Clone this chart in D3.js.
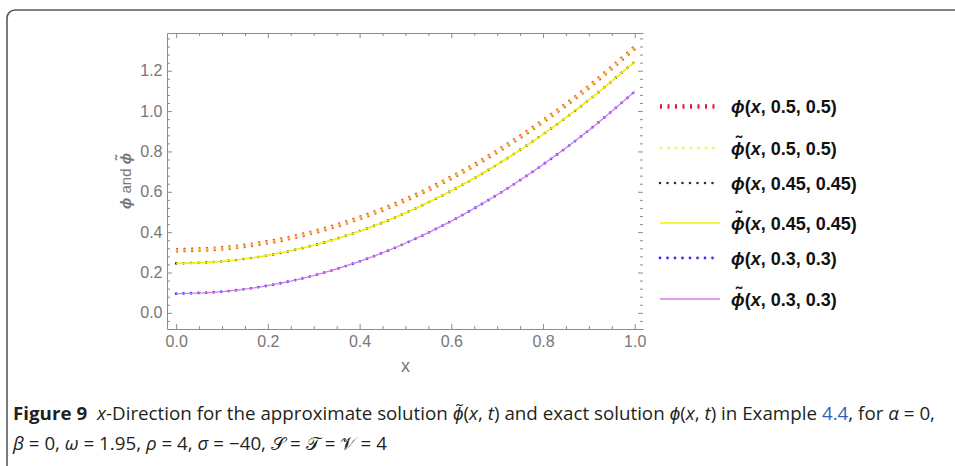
<!DOCTYPE html>
<html>
<head>
<meta charset="utf-8">
<script src="https://cdn.jsdelivr.net/npm/d3@7/dist/d3.min.js"></script>
<style>
  html, body { margin: 0; padding: 0; background: #fff; }
  svg { display: block; }
  svg text { white-space: pre; }
</style>
</head>
<body>
<svg id="chart" width="955" height="466"></svg>
<script>
// ---- data -------------------------------------------------------------
const xValues = [0, 0.1, 0.2, 0.3, 0.4, 0.5, 0.6, 0.7, 0.8, 0.9, 1.0];

// exact solution phi(x, t) and approximation phi~(x, t) at three (y, t) pairs
const exact050  = [0.310, 0.320, 0.350, 0.400, 0.470, 0.560, 0.670, 0.800, 0.950, 1.120, 1.315];
const approx050 = [0.310, 0.320, 0.350, 0.400, 0.470, 0.560, 0.670, 0.800, 0.950, 1.120, 1.315];
const exact045  = [0.245, 0.255, 0.285, 0.335, 0.405, 0.495, 0.605, 0.735, 0.885, 1.055, 1.245];
const approx045 = [0.245, 0.255, 0.285, 0.335, 0.405, 0.495, 0.605, 0.735, 0.885, 1.055, 1.245];
const exact030  = [0.095, 0.105, 0.135, 0.185, 0.255, 0.345, 0.455, 0.585, 0.735, 0.905, 1.097];
const approx030 = [0.095, 0.105, 0.135, 0.185, 0.255, 0.345, 0.455, 0.585, 0.735, 0.905, 1.097];

const xTickValues = [0, 0.2, 0.4, 0.6, 0.8, 1.0];
const yTickValues = [0, 0.2, 0.4, 0.6, 0.8, 1.0, 1.2];

const seriesArgs = ["0.5, 0.5", "0.5, 0.5", "0.45, 0.45", "0.45, 0.45", "0.3, 0.3", "0.3, 0.3"];

// ---- setup ------------------------------------------------------------
const svg = d3.select("#chart");
const PHI = "\u03D5";

svg.append("rect").attr("width", 955).attr("height", 466).attr("fill", "#fff");

// outer rounded panel border (open to the right and bottom)
svg.append("path")
  .attr("d", "M7,470 V18 A8,8 0 0 1 15,10 H960")
  .attr("fill", "none").attr("stroke", "#5a5a5a").attr("stroke-width", 1.6);

const x = d3.scaleLinear().domain([-0.02, 1.018]).range([167, 643]);
const y = d3.scaleLinear().domain([-0.08, 1.387]).range([329, 33]);

const axisColor = "#8c8c8c";
const labelColor = "#777";
const tickFont = "'Liberation Sans', Arial, sans-serif";

const xMinor = d3.range(0, 1.0001, 0.05).filter(v => !xTickValues.some(t => Math.abs(t - v) < 1e-6));
const yMinor = d3.range(-0.04, 1.38, 0.04).filter(v => !yTickValues.some(t => Math.abs(t - v) < 1e-6));
const fmt = d3.format(".1f");

function styleAxis(g, keepDomain) {
  g.attr("font-size", 16).attr("font-family", tickFont);
  g.selectAll("line").attr("stroke", axisColor);
  g.select(".domain").attr("stroke", axisColor);
  if (!keepDomain) g.select(".domain").remove();
  g.selectAll("text").attr("fill", labelColor);
}

// bottom
svg.append("g").attr("transform", "translate(0,329)")
  .call(d3.axisBottom(x).tickValues(xTickValues).tickFormat(fmt).tickSizeInner(-5).tickSizeOuter(0).tickPadding(7))
  .call(g => styleAxis(g, true));
svg.append("g").attr("transform", "translate(0,329)")
  .call(d3.axisBottom(x).tickValues(xMinor).tickFormat("").tickSizeInner(-3).tickSizeOuter(0))
  .call(g => styleAxis(g, false));
// top
svg.append("g").attr("transform", "translate(0,33)")
  .call(d3.axisTop(x).tickValues(xTickValues).tickFormat("").tickSizeInner(-5).tickSizeOuter(0))
  .call(g => styleAxis(g, true));
svg.append("g").attr("transform", "translate(0,33)")
  .call(d3.axisTop(x).tickValues(xMinor).tickFormat("").tickSizeInner(-3).tickSizeOuter(0))
  .call(g => styleAxis(g, false));
// left
svg.append("g").attr("transform", "translate(167,0)")
  .call(d3.axisLeft(y).tickValues(yTickValues).tickFormat(fmt).tickSizeInner(-5).tickSizeOuter(0).tickPadding(4.5))
  .call(g => styleAxis(g, true));
svg.append("g").attr("transform", "translate(167,0)")
  .call(d3.axisLeft(y).tickValues(yMinor).tickFormat("").tickSizeInner(-3).tickSizeOuter(0))
  .call(g => styleAxis(g, false));
// right (ticks only)
svg.append("g").attr("transform", "translate(643,0)")
  .call(d3.axisRight(y).tickValues(yTickValues).tickFormat("").tickSizeInner(-5).tickSizeOuter(0))
  .call(g => styleAxis(g, false));
svg.append("g").attr("transform", "translate(643,0)")
  .call(d3.axisRight(y).tickValues(yMinor).tickFormat("").tickSizeInner(-3).tickSizeOuter(0))
  .call(g => styleAxis(g, false));

// ---- rich text helper (italic pieces, tilde accents) --------------------
function rich(parent, segs, opt) {
  let cx = 0;
  segs.forEach(s => {
    const t = parent.append("text").attr("x", cx).attr("y", 0).text(s.t)
      .attr("font-style", s.i ? "italic" : null)
      .attr("font-weight", s.b ? "bold" : null)
      .attr("fill", s.c || null);
    if (s.f) t.attr("font-family", s.f);
    const w = t.node().getComputedTextLength();
    if (s.tilde) {
      parent.append("text").attr("x", cx + w / 2 + (opt.tdx || 1))
        .attr("y", -(opt.tdy || 4)).attr("text-anchor", "middle")
        .attr("font-weight", s.b ? "bold" : null)
        .attr("fill", s.c || null).text("\u02DC");
    }
    cx += w;
  });
  return cx;
}

// ---- series -------------------------------------------------------------
const lineGen = d3.line()
  .x((d, i) => x(xValues[i]))
  .y(d => y(d))
  .curve(d3.curveCatmullRom.alpha(0.5));

const styles = [
  { color: "#e8123e", width: 4.5, dash: "2 5.5", cap: "butt", opacity: 1 },           // phi, 0.5
  { color: "#f5e52a", width: 3.4, dash: "0 7.5", cap: "round", opacity: 0.75, off: -1 }, // phi~, 0.5
  { color: "#2e2e2e", width: 2.6, dash: "0 7.5", cap: "round", opacity: 1 },          // phi, 0.45
  { color: "#f4f000", width: 1.6, dash: null, cap: "butt", opacity: 1 },              // phi~, 0.45
  { color: "#3434f0", width: 2.8, dash: "0 7.5", cap: "round", opacity: 1 },          // phi, 0.3
  { color: "#d87ae8", width: 1.3, dash: null, cap: "butt", opacity: 1 }               // phi~, 0.3
];
const seriesData = [exact050, approx050, exact045, approx045, exact030, approx030];

const plot = svg.append("g");
seriesData.forEach((vals, k) => {
  const s = styles[k];
  plot.append("path").datum(vals)
    .attr("d", lineGen)
    .attr("fill", "none")
    .attr("stroke", s.color)
    .attr("stroke-width", s.width)
    .attr("stroke-linecap", s.cap)
    .attr("stroke-dasharray", s.dash)
    .attr("stroke-dashoffset", s.off || null)
    .attr("opacity", s.opacity);
});

// ---- legend -----------------------------------------------------------
const legendRows = [106.5, 148, 183, 223, 258, 299];
const legend = svg.append("g");
seriesData.forEach((vals, k) => {
  const s = styles[k];
  const yy = legendRows[k];
  legend.append("path")
    .attr("d", d3.line()([[660, yy], [720, yy]]))
    .attr("fill", "none")
    .attr("stroke", s.color)
    .attr("stroke-width", s.width)
    .attr("stroke-linecap", s.cap)
    .attr("stroke-dasharray", s.dash)
    .attr("stroke-dashoffset", s.off || null)
    .attr("opacity", k === 1 ? 0.55 : s.opacity);
  const tg = legend.append("g")
    .attr("transform", `translate(731,${yy + 6.5})`)
    .attr("font-family", "'Liberation Sans', Arial, sans-serif")
    .attr("font-size", 18).attr("font-weight", "bold").attr("fill", "#111");
  rich(tg, [
    { t: PHI, i: true, b: true, tilde: k % 2 === 1 },
    { t: "(", b: true },
    { t: "x", i: true, b: true },
    { t: ", " + seriesArgs[k] + ")", b: true }
  ], { tdx: 1, tdy: 6 });
});

// ---- axis titles --------------------------------------------------------
svg.append("text")
  .attr("x", x(0.5)).attr("y", 372)
  .attr("text-anchor", "middle")
  .attr("font-family", tickFont).attr("font-size", 18).attr("fill", labelColor)
  .text("x");

const yl = svg.append("g")
  .attr("transform", `translate(131,${(33 + 329) / 2}) rotate(-90)`)
  .attr("font-family", tickFont).attr("font-size", 15).attr("fill", labelColor);
const ylInner = yl.append("g");
const ylw = rich(ylInner, [
  { t: PHI, i: true, b: true },
  { t: " and " },
  { t: PHI, i: true, b: true, tilde: true }
], { tdx: 1, tdy: 5 });
ylInner.attr("transform", `translate(${-ylw / 2},0)`);

// ---- caption ------------------------------------------------------------
const capFont = "'Liberation Sans Narrow', 'Open Sans', 'Liberation Sans', sans-serif";
const cap1 = svg.append("g").attr("font-family", capFont).attr("font-size", 18).attr("fill", "#231f20");
const w1 = rich(cap1, [
  { t: "Figure 9", b: true },
  { t: "  " },
  { t: "x", i: true },
  { t: "-Direction for the approximate solution " },
  { t: PHI, i: true, tilde: true },
  { t: "(" }, { t: "x", i: true }, { t: ", " }, { t: "t", i: true },
  { t: ") and exact solution " },
  { t: PHI, i: true },
  { t: "(" }, { t: "x", i: true }, { t: ", " }, { t: "t", i: true },
  { t: ") in Example " },
  { t: "4.4", c: "#2f63b8" },
  { t: ", for " },
  { t: "\u03B1", i: true },
  { t: " = 0," }
], { tdx: 1, tdy: 3 });
const capScale = (935 - 13) / w1;
cap1.attr("transform", `translate(13,420) scale(${capScale},1)`);

const cap2 = svg.append("g").attr("font-family", capFont).attr("font-size", 18).attr("fill", "#231f20")
  .attr("transform", `translate(13,450) scale(${capScale},1)`);
rich(cap2, [
  { t: "\u03B2", i: true }, { t: " = 0, " },
  { t: "\u03C9", i: true }, { t: " = 1.95, " },
  { t: "\u03C1", i: true }, { t: " = 4, " },
  { t: "\u03C3", i: true }, { t: " = \u221240, " },
  { t: "\uD835\uDCAE" }, { t: " = " },
  { t: "\uD835\uDCAF" }, { t: " = " },
  { t: "\uD835\uDCB1" }, { t: " = 4" }
], {});
</script>
</body>
</html>
